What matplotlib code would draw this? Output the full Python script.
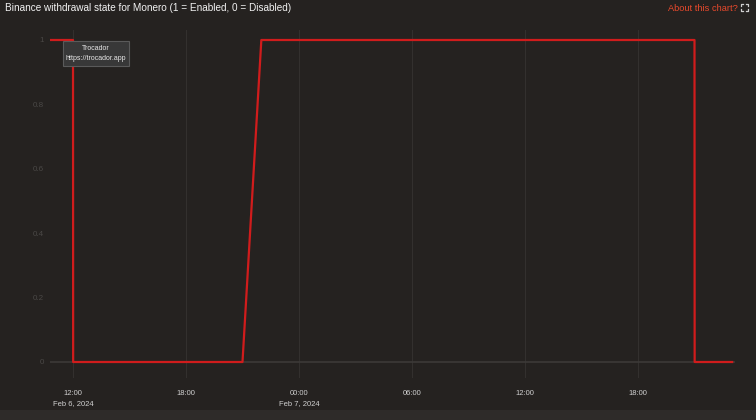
import matplotlib
matplotlib.use("Agg")
import matplotlib.pyplot as plt
import pandas as pd
from matplotlib.patches import Rectangle
from matplotlib.lines import Line2D

plt.rcParams['font.family'] = ['Liberation Sans', 'DejaVu Sans']

# Data
times = ["2024-02-06 10:47:00", "2024-02-06 12:00:00", "2024-02-06 12:00:30", "2024-02-06 21:00:00",
         "2024-02-06 22:00:00", "2024-02-07 21:00:00", "2024-02-07 21:00:30", "2024-02-07 23:00:00"]
state = [1, 1, 0, 0, 1, 1, 0, 0]
tick_times = ["2024-02-06 12:00", "2024-02-06 18:00", "2024-02-07 00:00",
              "2024-02-07 06:00", "2024-02-07 12:00", "2024-02-07 18:00"]
tick_labels = ["12:00\nFeb 6, 2024", "18:00", "00:00\nFeb 7, 2024", "06:00", "12:00", "18:00"]
y_ticks = [0, 0.2, 0.4, 0.6, 0.8, 1]
y_labels = ["0", "0.2", "0.4", "0.6", "0.8", "1"]

BG = "#252220"
W, H = 756, 420
fig = plt.figure(figsize=(W / 100, H / 100), dpi=100)
fig.patch.set_facecolor(BG)

# bottom strip
fig.patches.append(Rectangle((0, 0), 1, 10 / H, transform=fig.transFigure,
                             facecolor="#2e2b29", edgecolor="none", zorder=0))

left, right, top, bottom = 50, 735, 30, 378
ax = fig.add_axes([left / W, 1 - bottom / H, (right - left) / W, (bottom - top) / H])
ax.set_facecolor(BG)

t = pd.to_datetime(times, format="%Y-%m-%d %H:%M:%S")
ticks = pd.to_datetime(tick_times, format="%Y-%m-%d %H:%M")
t0 = pd.Timestamp("2024-02-06 12:00")
px_per_hour = 113 / 6.0
xmin = t0 + pd.Timedelta(hours=(left - 73) / px_per_hour)
xmax = t0 + pd.Timedelta(hours=(right - 73) / px_per_hour)
ax.set_xlim(xmin, xmax)
ax.set_ylim(-16 / 322, 1 + 10 / 322)

for tk in ticks:
    ax.axvline(tk, color="#33302e", lw=0.8, zorder=1)
ax.axhline(0, color="#3c3a38", lw=1.2, zorder=1)

ax.plot(t, state, color="#d01c1c", lw=1.6, zorder=3)

for s in ax.spines.values():
    s.set_visible(False)
ax.set_xticks(ticks)
ax.set_xticklabels(tick_labels, color="#d0d0d0", fontsize=5.5, linespacing=1.55)
ax.tick_params(axis="x", length=0, pad=8.5)
ax.set_yticks(y_ticks)
ax.set_yticklabels(y_labels, color="#4a4846", fontsize=5.8)
ax.tick_params(axis="y", length=0, pad=4.5)

# Tooltip
fig.patches.append(Rectangle((63 / W, 1 - 66 / H), 66 / W, 25 / H, transform=fig.transFigure,
                             facecolor="#383838", edgecolor="#5a5a5a", lw=0.8, zorder=5))
fig.text(96 / W, 1 - 49 / H, "Trocador", color="#e8e8e8", fontsize=5.05,
         ha="center", va="center", zorder=6)
fig.text(96 / W, 1 - 59 / H, "https://trocador.app", color="#e8e8e8", fontsize=5.05,
         ha="center", va="center", zorder=6)

# Title and link
fig.text(5 / W, 1 - 8 / H, "Binance withdrawal state for Monero (1 = Enabled, 0 = Disabled)",
         color="#f2f2f2", fontsize=7.2, ha="left", va="center")
fig.text(738 / W, 1 - 8.5 / H, "About this chart?", color="#e8492c", fontsize=6.7,
         ha="right", va="center")

# expand icon (four outward corner marks)
cx, cy, d, a = 744.5, 7.5, 3.5, 2.0
for sx in (-1, 1):
    for sy in (-1, 1):
        x0, y0 = cx + sx * d, cy + sy * d
        fig.lines.append(Line2D([x0 / W, x0 / W, (x0 - sx * a) / W],
                                [1 - (y0 - sy * a) / H, 1 - y0 / H, 1 - y0 / H],
                                transform=fig.transFigure, color="#d0d0d0", lw=0.9))

fig.savefig("out.png", dpi=100, facecolor=BG)
